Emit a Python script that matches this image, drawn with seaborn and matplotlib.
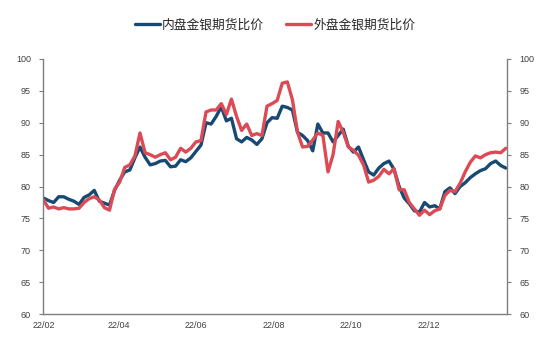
import pandas as pd
import matplotlib.pyplot as plt
import matplotlib.dates as mdates
import seaborn as sns

# dates: every 4 days from 2022-02-01
dates = pd.date_range("2022-02-01", periods=92, freq="4D")
tick_dates = pd.to_datetime(["2022-02-01", "2022-04-01", "2022-06-01",
                             "2022-08-01", "2022-10-01", "2022-12-01"])

# 内盘金银期货比价
domestic = [
    78.2, 77.8, 77.5, 78.4, 78.4, 78.0, 77.7, 77.2, 78.3, 78.7,
    79.4, 77.7, 77.4, 77.1, 79.4, 81.0, 82.3, 82.6, 84.5, 86.2,
    84.6, 83.4, 83.6, 84.0, 84.1, 83.1, 83.2, 84.2, 83.9, 84.5,
    85.5, 86.5, 90.0, 89.8, 91.0, 92.5, 90.3, 90.7, 87.5, 87.0,
    87.7, 87.3, 86.6, 87.5, 90.0, 90.8, 90.7, 92.6, 92.4, 92.0,
    88.5, 88.0, 87.2, 85.6, 89.8, 88.4, 88.4, 87.0, 88.0, 89.0,
    86.3, 85.4, 86.2, 84.2, 82.3, 81.8, 82.9, 83.6, 84.0, 82.7,
    80.0, 78.2, 77.3, 76.2, 76.0, 77.5, 76.8, 77.0, 76.5, 79.2,
    79.8, 78.9, 80.0, 80.6, 81.4, 82.0, 82.5, 82.8, 83.6, 84.0,
    83.3, 82.9,
]

# 外盘金银期货比价
foreign = [
    77.9, 76.6, 76.8, 76.5, 76.7, 76.5, 76.5, 76.6, 77.5, 78.1,
    78.4, 77.9, 76.7, 76.3, 79.6, 80.7, 83.0, 83.4, 84.8, 88.4,
    85.3, 85.0, 84.6, 85.0, 85.3, 84.2, 84.6, 86.0, 85.4, 86.0,
    87.0, 87.2, 91.7, 92.0, 92.0, 93.0, 91.3, 93.7, 91.0, 88.8,
    89.8, 88.0, 88.3, 88.0, 92.6, 93.0, 93.5, 96.2, 96.4, 93.6,
    88.5, 86.2, 86.3, 87.3, 88.4, 88.0, 82.3, 85.0, 90.2, 88.5,
    86.2, 85.7, 84.9, 83.4, 80.7, 81.0, 81.6, 82.7, 82.0, 82.8,
    79.5, 79.5, 77.5, 76.5, 75.5, 76.3, 75.6, 76.2, 76.5, 78.6,
    79.4, 79.2, 80.5, 82.3, 83.8, 84.8, 84.5, 85.0, 85.3, 85.4,
    85.3, 86.0,
]

df = pd.DataFrame({"date": dates, "domestic": domestic, "foreign": foreign})

sns.set_theme(style="white")
plt.rcParams["font.family"] = ["Noto Sans CJK SC", "DejaVu Sans"]

blue = "#174A72"
red = "#DC4B55"
axis_col = "#7f7f7f"
text_col = "#404040"

fig = plt.figure(figsize=(5.5, 3.53), dpi=100)
ax = fig.add_axes([0.079, 0.110, 0.843, 0.723])

sns.lineplot(data=df, x="date", y="domestic", ax=ax, color=blue, linewidth=2.4,
             label="内盘金银期货比价")
sns.lineplot(data=df, x="date", y="foreign", ax=ax, color=red, linewidth=2.4,
             label="外盘金银期货比价")

ax.set_xlim(pd.Timestamp("2022-02-01"), pd.Timestamp("2023-02-01"))
ax.set_ylim(60, 100)
ax.set_yticks(range(60, 101, 5))
ax.set_xticks(tick_dates)
ax.xaxis.set_major_formatter(mdates.DateFormatter("%y/%m"))
ax.set_xlabel("")
ax.set_ylabel("")

ax2 = ax.twinx()
ax2.set_ylim(60, 100)
ax2.set_yticks(range(60, 101, 5))

for a in (ax, ax2):
    for s in a.spines.values():
        s.set_color(axis_col)
        s.set_linewidth(1.0)
    a.spines["top"].set_visible(False)
    a.tick_params(axis="y", direction="out", length=3, width=0.8, colors=axis_col,
                  labelcolor=text_col, labelsize=6.5, pad=6)
ax.spines["right"].set_visible(False)
ax2.spines["left"].set_visible(False)
ax2.spines["bottom"].set_visible(False)
ax.tick_params(axis="x", direction="inout", length=4, width=0.8, colors=axis_col,
               labelcolor=text_col, labelsize=6.5, pad=3)
for lbl in ax.get_xticklabels() + ax.get_yticklabels() + ax2.get_yticklabels():
    lbl.set_family(["Liberation Sans", "DejaVu Sans"])

ax.legend(loc="center", bbox_to_anchor=(0.5, 0.93), bbox_transform=fig.transFigure,
          ncol=2, frameon=False, fontsize=9.2, handlelength=2.0, columnspacing=1.7,
          handletextpad=0.15)

fig.savefig("out.png", dpi=100)
